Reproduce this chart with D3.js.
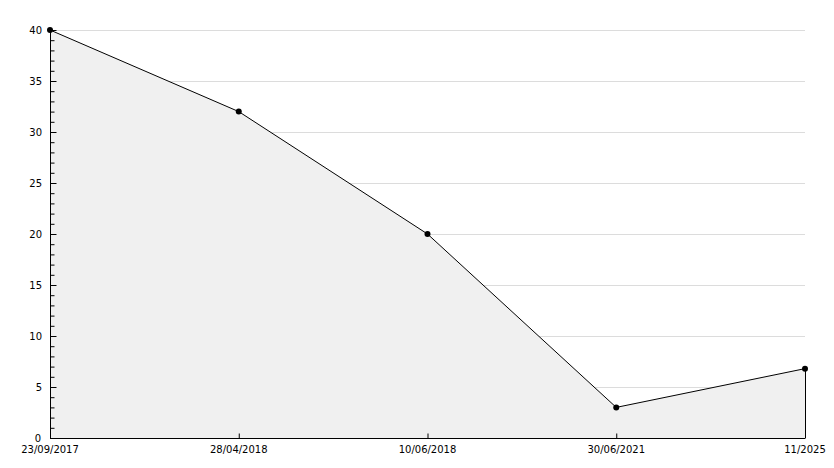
<!DOCTYPE html>
<html>
<head>
<meta charset="utf-8">
<script src="https://cdn.jsdelivr.net/npm/d3@7"></script>
<style>
  body { margin: 0; background: #fff; }
  svg text { font-family: "DejaVu Sans", sans-serif; font-size: 10px; fill: #000; }
</style>
</head>
<body>
<div id="wrapper"></div>
<script>
// DATA
const dates = [`23/09/2017`, `28/04/2018`, `10/06/2018`, `30/06/2021`, `11/2025`];
const values = [40, 32, 20, 3, 6.8];
const yTicks = [0, 5, 10, 15, 20, 25, 30, 35, 40];

// GRAPH
const W = 834;
const H = 468;
const margin = { top: 30, right: 29, bottom: 30, left: 50 };
const width = W - margin.left - margin.right;
const height = H - margin.top - margin.bottom;

const svg = d3.select(`#wrapper`)
  .append(`svg`)
  .attr(`width`, W)
  .attr(`height`, H)
  .append(`g`)
  .attr(`transform`, `translate(${margin.left}, ${margin.top})`);

// SCALES
const xScale = d3.scalePoint()
  .domain(dates)
  .range([0, width]);

const yScale = d3.scaleLinear()
  .domain([0, 40])
  .range([height, 0]);

const data = dates.map((d, i) => ({ date: d, value: values[i] }));

// GRID
svg.append(`g`)
  .selectAll(`line`)
  .data(yTicks.filter(t => t > 0))
  .enter()
  .append(`line`)
  .attr(`x1`, 0)
  .attr(`x2`, width)
  .attr(`y1`, d => Math.round(yScale(d)) + 0.5)
  .attr(`y2`, d => Math.round(yScale(d)) + 0.5)
  .attr(`stroke`, `#dcdcdc`);

// AREA
const area = d3.area()
  .x(d => xScale(d.date))
  .y0(yScale(0))
  .y1(d => yScale(d.value));

svg.append(`path`)
  .datum(data)
  .attr(`d`, area)
  .attr(`fill`, `#f0f0f0`);

const line = d3.line()
  .x(d => xScale(d.date))
  .y(d => yScale(d.value));

svg.append(`path`)
  .datum(data)
  .attr(`d`, line)
  .attr(`fill`, `none`)
  .attr(`stroke`, `#000`)
  .attr(`stroke-width`, 1);

// right edge of the area
const last = data[data.length - 1];
svg.append(`line`)
  .attr(`x1`, xScale(last.date) + 0.5)
  .attr(`x2`, xScale(last.date) + 0.5)
  .attr(`y1`, yScale(last.value))
  .attr(`y2`, yScale(0))
  .attr(`stroke`, `#000`);

// AXIS
const yAxis = d3.axisRight(yScale)
  .tickValues(d3.range(0, 41, 1))
  .tickSize(4)
  .tickFormat(``);

svg.append(`g`)
  .attr(`id`, `y-axis`)
  .attr(`transform`, `translate(0.5, 0)`)
  .call(yAxis)
  .call(g => g.select(`.domain`).attr(`d`, `M0,0V${height}`).attr(`stroke`, `#000`))
  .call(g => g.selectAll(`.tick line`)
    .attr(`x2`, d => d % 5 === 0 ? 6 : 4)
    .attr(`stroke`, `#000`));

svg.append(`g`)
  .selectAll(`text`)
  .data(yTicks)
  .enter()
  .append(`text`)
  .attr(`x`, d => d === 0 ? -9 : -8)
  .attr(`y`, d => yScale(d))
  .attr(`dy`, `0.35em`)
  .attr(`text-anchor`, `end`)
  .text(d => d);

const xAxis = d3.axisTop(xScale)
  .tickSize(5)
  .tickFormat(``);

svg.append(`g`)
  .attr(`id`, `x-axis`)
  .attr(`transform`, `translate(0, ${height + 0.5})`)
  .call(xAxis)
  .call(g => g.select(`.domain`).attr(`d`, `M0,0H${width}`).attr(`stroke`, `#000`))
  .call(g => g.selectAll(`.tick line`).attr(`stroke`, `#000`));

svg.append(`g`)
  .selectAll(`text`)
  .data(dates)
  .enter()
  .append(`text`)
  .attr(`x`, d => xScale(d))
  .attr(`y`, height + 15)
  .attr(`text-anchor`, `middle`)
  .text(d => d);

// MARKERS
svg.append(`g`)
  .selectAll(`circle`)
  .data(data)
  .enter()
  .append(`circle`)
  .attr(`cx`, d => xScale(d.date))
  .attr(`cy`, d => yScale(d.value))
  .attr(`r`, 3)
  .attr(`fill`, `#000`);
</script>
</body>
</html>
